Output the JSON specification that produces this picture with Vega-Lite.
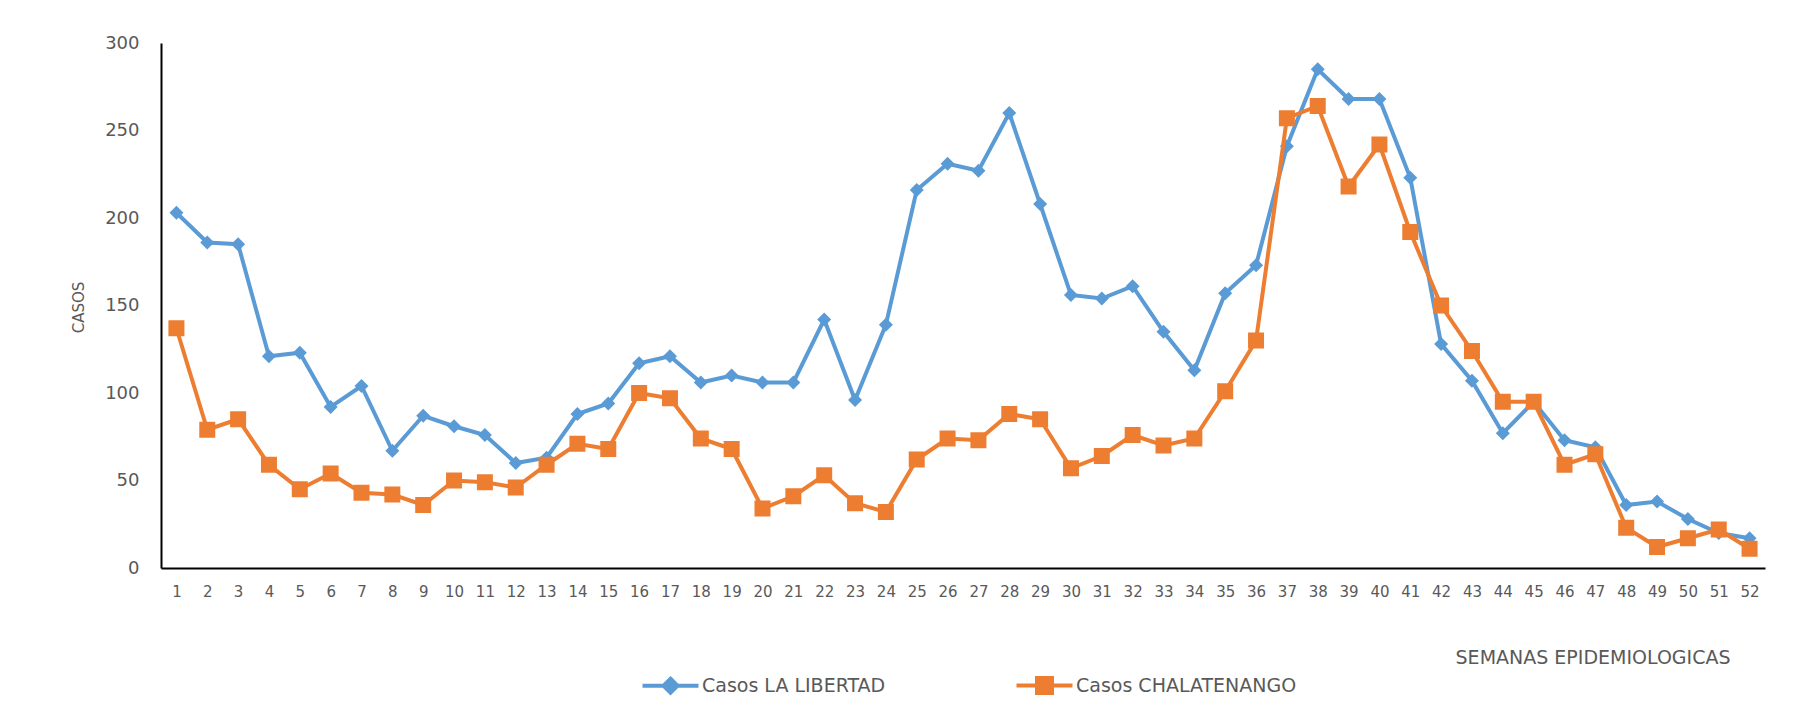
{
  "$schema": "https://vega.github.io/schema/vega-lite/v6.json",
  "width": 1604,
  "height": 525,
  "autosize": {"type": "none"},
  "padding": {"left": 161, "top": 43, "right": 32, "bottom": 148},
  "background": "white",
  "config": {
    "font": "DejaVu Sans",
    "view": {"stroke": null},
    "axis": {"grid": false, "ticks": false, "tickSize": 0, "domainColor": "#000000", "domainWidth": 2, "labelColor": "#595959", "titleColor": "#595959", "titleFontWeight": "normal"}
  },
  "data": {
    "values": [
      {"semana": 1, "serie": "Casos LA LIBERTAD", "casos": 203},
      {"semana": 2, "serie": "Casos LA LIBERTAD", "casos": 186},
      {"semana": 3, "serie": "Casos LA LIBERTAD", "casos": 185},
      {"semana": 4, "serie": "Casos LA LIBERTAD", "casos": 121},
      {"semana": 5, "serie": "Casos LA LIBERTAD", "casos": 123},
      {"semana": 6, "serie": "Casos LA LIBERTAD", "casos": 92},
      {"semana": 7, "serie": "Casos LA LIBERTAD", "casos": 104},
      {"semana": 8, "serie": "Casos LA LIBERTAD", "casos": 67},
      {"semana": 9, "serie": "Casos LA LIBERTAD", "casos": 87},
      {"semana": 10, "serie": "Casos LA LIBERTAD", "casos": 81},
      {"semana": 11, "serie": "Casos LA LIBERTAD", "casos": 76},
      {"semana": 12, "serie": "Casos LA LIBERTAD", "casos": 60},
      {"semana": 13, "serie": "Casos LA LIBERTAD", "casos": 63},
      {"semana": 14, "serie": "Casos LA LIBERTAD", "casos": 88},
      {"semana": 15, "serie": "Casos LA LIBERTAD", "casos": 94},
      {"semana": 16, "serie": "Casos LA LIBERTAD", "casos": 117},
      {"semana": 17, "serie": "Casos LA LIBERTAD", "casos": 121},
      {"semana": 18, "serie": "Casos LA LIBERTAD", "casos": 106},
      {"semana": 19, "serie": "Casos LA LIBERTAD", "casos": 110},
      {"semana": 20, "serie": "Casos LA LIBERTAD", "casos": 106},
      {"semana": 21, "serie": "Casos LA LIBERTAD", "casos": 106},
      {"semana": 22, "serie": "Casos LA LIBERTAD", "casos": 142},
      {"semana": 23, "serie": "Casos LA LIBERTAD", "casos": 96},
      {"semana": 24, "serie": "Casos LA LIBERTAD", "casos": 139},
      {"semana": 25, "serie": "Casos LA LIBERTAD", "casos": 216},
      {"semana": 26, "serie": "Casos LA LIBERTAD", "casos": 231},
      {"semana": 27, "serie": "Casos LA LIBERTAD", "casos": 227},
      {"semana": 28, "serie": "Casos LA LIBERTAD", "casos": 260},
      {"semana": 29, "serie": "Casos LA LIBERTAD", "casos": 208},
      {"semana": 30, "serie": "Casos LA LIBERTAD", "casos": 156},
      {"semana": 31, "serie": "Casos LA LIBERTAD", "casos": 154},
      {"semana": 32, "serie": "Casos LA LIBERTAD", "casos": 161},
      {"semana": 33, "serie": "Casos LA LIBERTAD", "casos": 135},
      {"semana": 34, "serie": "Casos LA LIBERTAD", "casos": 113},
      {"semana": 35, "serie": "Casos LA LIBERTAD", "casos": 157},
      {"semana": 36, "serie": "Casos LA LIBERTAD", "casos": 173},
      {"semana": 37, "serie": "Casos LA LIBERTAD", "casos": 241},
      {"semana": 38, "serie": "Casos LA LIBERTAD", "casos": 285},
      {"semana": 39, "serie": "Casos LA LIBERTAD", "casos": 268},
      {"semana": 40, "serie": "Casos LA LIBERTAD", "casos": 268},
      {"semana": 41, "serie": "Casos LA LIBERTAD", "casos": 223},
      {"semana": 42, "serie": "Casos LA LIBERTAD", "casos": 128},
      {"semana": 43, "serie": "Casos LA LIBERTAD", "casos": 107},
      {"semana": 44, "serie": "Casos LA LIBERTAD", "casos": 77},
      {"semana": 45, "serie": "Casos LA LIBERTAD", "casos": 95},
      {"semana": 46, "serie": "Casos LA LIBERTAD", "casos": 73},
      {"semana": 47, "serie": "Casos LA LIBERTAD", "casos": 69},
      {"semana": 48, "serie": "Casos LA LIBERTAD", "casos": 36},
      {"semana": 49, "serie": "Casos LA LIBERTAD", "casos": 38},
      {"semana": 50, "serie": "Casos LA LIBERTAD", "casos": 28},
      {"semana": 51, "serie": "Casos LA LIBERTAD", "casos": 20},
      {"semana": 52, "serie": "Casos LA LIBERTAD", "casos": 17},
      {"semana": 1, "serie": "Casos CHALATENANGO", "casos": 137},
      {"semana": 2, "serie": "Casos CHALATENANGO", "casos": 79},
      {"semana": 3, "serie": "Casos CHALATENANGO", "casos": 85},
      {"semana": 4, "serie": "Casos CHALATENANGO", "casos": 59},
      {"semana": 5, "serie": "Casos CHALATENANGO", "casos": 45},
      {"semana": 6, "serie": "Casos CHALATENANGO", "casos": 54},
      {"semana": 7, "serie": "Casos CHALATENANGO", "casos": 43},
      {"semana": 8, "serie": "Casos CHALATENANGO", "casos": 42},
      {"semana": 9, "serie": "Casos CHALATENANGO", "casos": 36},
      {"semana": 10, "serie": "Casos CHALATENANGO", "casos": 50},
      {"semana": 11, "serie": "Casos CHALATENANGO", "casos": 49},
      {"semana": 12, "serie": "Casos CHALATENANGO", "casos": 46},
      {"semana": 13, "serie": "Casos CHALATENANGO", "casos": 59},
      {"semana": 14, "serie": "Casos CHALATENANGO", "casos": 71},
      {"semana": 15, "serie": "Casos CHALATENANGO", "casos": 68},
      {"semana": 16, "serie": "Casos CHALATENANGO", "casos": 100},
      {"semana": 17, "serie": "Casos CHALATENANGO", "casos": 97},
      {"semana": 18, "serie": "Casos CHALATENANGO", "casos": 74},
      {"semana": 19, "serie": "Casos CHALATENANGO", "casos": 68},
      {"semana": 20, "serie": "Casos CHALATENANGO", "casos": 34},
      {"semana": 21, "serie": "Casos CHALATENANGO", "casos": 41},
      {"semana": 22, "serie": "Casos CHALATENANGO", "casos": 53},
      {"semana": 23, "serie": "Casos CHALATENANGO", "casos": 37},
      {"semana": 24, "serie": "Casos CHALATENANGO", "casos": 32},
      {"semana": 25, "serie": "Casos CHALATENANGO", "casos": 62},
      {"semana": 26, "serie": "Casos CHALATENANGO", "casos": 74},
      {"semana": 27, "serie": "Casos CHALATENANGO", "casos": 73},
      {"semana": 28, "serie": "Casos CHALATENANGO", "casos": 88},
      {"semana": 29, "serie": "Casos CHALATENANGO", "casos": 85},
      {"semana": 30, "serie": "Casos CHALATENANGO", "casos": 57},
      {"semana": 31, "serie": "Casos CHALATENANGO", "casos": 64},
      {"semana": 32, "serie": "Casos CHALATENANGO", "casos": 76},
      {"semana": 33, "serie": "Casos CHALATENANGO", "casos": 70},
      {"semana": 34, "serie": "Casos CHALATENANGO", "casos": 74},
      {"semana": 35, "serie": "Casos CHALATENANGO", "casos": 101},
      {"semana": 36, "serie": "Casos CHALATENANGO", "casos": 130},
      {"semana": 37, "serie": "Casos CHALATENANGO", "casos": 257},
      {"semana": 38, "serie": "Casos CHALATENANGO", "casos": 264},
      {"semana": 39, "serie": "Casos CHALATENANGO", "casos": 218},
      {"semana": 40, "serie": "Casos CHALATENANGO", "casos": 242},
      {"semana": 41, "serie": "Casos CHALATENANGO", "casos": 192},
      {"semana": 42, "serie": "Casos CHALATENANGO", "casos": 150},
      {"semana": 43, "serie": "Casos CHALATENANGO", "casos": 124},
      {"semana": 44, "serie": "Casos CHALATENANGO", "casos": 95},
      {"semana": 45, "serie": "Casos CHALATENANGO", "casos": 95},
      {"semana": 46, "serie": "Casos CHALATENANGO", "casos": 59},
      {"semana": 47, "serie": "Casos CHALATENANGO", "casos": 65},
      {"semana": 48, "serie": "Casos CHALATENANGO", "casos": 23},
      {"semana": 49, "serie": "Casos CHALATENANGO", "casos": 12},
      {"semana": 50, "serie": "Casos CHALATENANGO", "casos": 17},
      {"semana": 51, "serie": "Casos CHALATENANGO", "casos": 22},
      {"semana": 52, "serie": "Casos CHALATENANGO", "casos": 11}
    ]
  },
  "encoding": {
    "x": {
      "field": "semana",
      "type": "ordinal",
      "sort": "ascending",
      "scale": {"type": "point", "padding": 0.5},
      "axis": {
        "title": "SEMANAS EPIDEMIOLOGICAS",
        "titleFontSize": 19,
        "titleX": 1569,
        "titleY": 89,
        "titleAlign": "right",
        "titleBaseline": "middle",
        "labelAngle": 0,
        "labelFontSize": 15,
        "labelPadding": 16,
        "labelBaseline": "top"
      }
    },
    "y": {
      "field": "casos",
      "type": "quantitative",
      "scale": {"domain": [0, 300], "nice": false},
      "axis": {
        "title": "CASOS",
        "titleFontSize": 15,
        "titleX": -83,
        "titleY": 264,
        "titleAlign": "center",
        "titleBaseline": "middle",
        "titleAngle": -90,
        "values": [0, 50, 100, 150, 200, 250, 300],
        "labelFontSize": 18,
        "labelPadding": 22
      }
    },
    "color": {
      "field": "serie",
      "type": "nominal",
      "scale": {"domain": ["Casos LA LIBERTAD", "Casos CHALATENANGO"], "range": ["#5B9BD5", "#ED7D31"]},
      "legend": {
        "title": null,
        "orient": "none",
        "direction": "horizontal",
        "columns": 2,
        "legendX": 500,
        "legendY": 633,
        "labelFontSize": 19,
        "labelColor": "#595959",
        "labelLimit": 0,
        "labelOffset": 22,
        "columnPadding": 122,
        "symbolSize": 100,
        "symbolStrokeWidth": 4,
        "encode": {
          "symbols": {
            "update": {
              "shape": {"signal": "datum.value === 'Casos LA LIBERTAD' ? 'M-5.6,0L5.6,0M0,-1.4L1.4,0L0,1.4L-1.4,0Z' : 'M-5.6,0L5.6,0M-1.5,-1.5L1.5,-1.5L1.5,1.5L-1.5,1.5Z'"},
              "fill": {"signal": "datum.value === 'Casos LA LIBERTAD' ? '#5B9BD5' : '#ED7D31'"},
              "stroke": {"signal": "datum.value === 'Casos LA LIBERTAD' ? '#5B9BD5' : '#ED7D31'"},
              "strokeWidth": {"value": 4},
              "opacity": {"value": 1}
            }
          }
        }
      }
    }
  },
  "layer": [
    {
      "transform": [{"filter": "datum.serie === 'Casos LA LIBERTAD'"}],
      "mark": {"type": "line", "strokeWidth": 4}
    },
    {
      "transform": [{"filter": "datum.serie === 'Casos LA LIBERTAD'"}],
      "mark": {"type": "point", "shape": "diamond", "filled": true, "size": 196, "opacity": 1}
    },
    {
      "transform": [{"filter": "datum.serie === 'Casos CHALATENANGO'"}],
      "mark": {"type": "line", "strokeWidth": 4}
    },
    {
      "transform": [{"filter": "datum.serie === 'Casos CHALATENANGO'"}],
      "mark": {"type": "point", "shape": "square", "filled": true, "size": 256, "opacity": 1}
    }
  ]
}
